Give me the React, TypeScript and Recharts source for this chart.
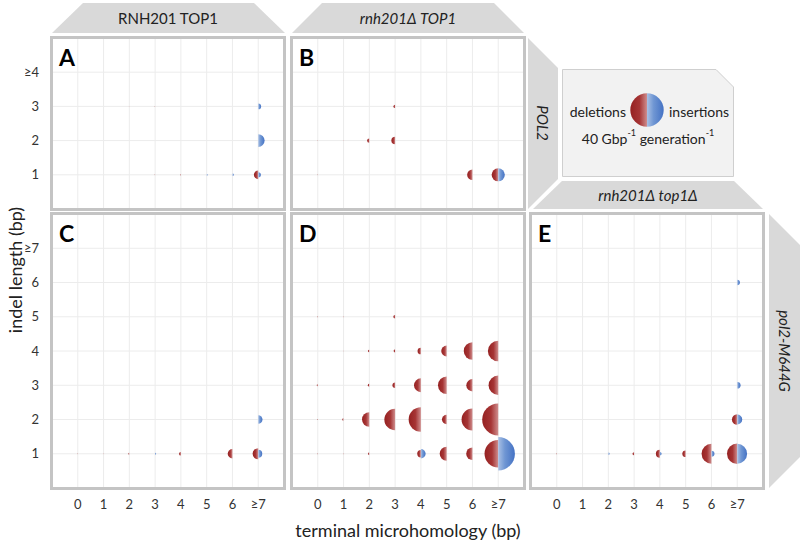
import React from 'react';
import { ScatterChart, Scatter, XAxis, YAxis, ZAxis, CartesianGrid } from 'recharts';

// tick labels
const microLabels = ['0', '1', '2', '3', '4', '5', '6', '≥7'];
const topLengthLabels = ['1', '2', '3', '≥4'];
const bottomLengthLabels = ['1', '2', '3', '4', '5', '6', '≥7'];

// rates (Gbp-1 generation-1); rows = indel length 1.., columns = microhomology 0..≥7
const aDeletions = [
  [0, 0, 0, 0.03, 0.06, 0, 0, 2.7],
  [0, 0, 0, 0, 0, 0, 0, 0],
  [0, 0, 0.03, 0.03, 0, 0, 0, 0],
  [0, 0, 0, 0, 0, 0, 0, 0],
];
const aInsertions = [
  [0, 0, 0, 0, 0, 0.12, 0.25, 1.0],
  [0, 0, 0, 0, 0, 0, 0, 5.8],
  [0, 0, 0, 0, 0, 0, 0, 1.2],
  [0, 0, 0, 0, 0, 0, 0, 0],
];
const bDeletions = [
  [0.03, 0, 0, 0, 0, 0, 4.0, 6.2],
  [0.03, 0.03, 0.7, 2.0, 0, 0, 0, 0],
  [0, 0, 0, 0.4, 0, 0, 0, 0],
  [0, 0, 0, 0, 0, 0, 0, 0],
];
const bInsertions = [
  [0, 0, 0, 0, 0, 0, 0, 6.2],
  [0, 0, 0, 0, 0, 0, 0, 0],
  [0, 0, 0, 0, 0, 0, 0, 0],
  [0, 0, 0, 0, 0, 0, 0, 0],
];
const cDeletions = [
  [0.03, 0.03, 0.12, 0, 0.5, 0, 3.2, 4.5],
  [0, 0, 0, 0, 0, 0, 0, 0],
  [0, 0, 0, 0, 0, 0, 0, 0],
  [0, 0, 0, 0, 0, 0, 0, 0],
  [0, 0, 0, 0, 0, 0, 0, 0],
  [0, 0, 0, 0, 0, 0, 0, 0],
  [0, 0, 0, 0, 0, 0, 0, 0],
];
const cInsertions = [
  [0, 0, 0, 0.15, 0, 0, 0, 2.3],
  [0, 0, 0, 0, 0, 0, 0, 2.6],
  [0, 0, 0, 0, 0, 0, 0, 0],
  [0, 0, 0, 0, 0, 0, 0, 0],
  [0, 0, 0, 0, 0, 0, 0, 0],
  [0, 0, 0, 0, 0, 0, 0, 0],
  [0, 0, 0, 0, 0, 0, 0, 0],
];
const dDeletions = [
  [0.04, 0.04, 0.25, 0, 1.9, 7.0, 5.6, 27],
  [0.05, 0.2, 7.7, 16.6, 21.5, 3.2, 17, 37],
  [0.15, 0, 0.3, 1.0, 6.8, 10.8, 5.4, 13.4],
  [0, 0.03, 0.25, 0.3, 1.6, 4.2, 10.8, 15.3],
  [0.05, 0.05, 0, 0.45, 0, 0, 0, 0],
  [0, 0, 0, 0, 0, 0, 0, 0],
  [0, 0, 0, 0, 0, 0, 0, 0],
];
const dInsertions = [
  [0, 0, 0, 0, 3.2, 0, 0, 40],
  [0, 0, 0, 0, 0, 0, 0, 0],
  [0, 0, 0, 0, 0, 0, 0, 0],
  [0, 0, 0, 0, 0, 0, 0, 0],
  [0, 0, 0, 0, 0, 0, 0, 0],
  [0, 0, 0, 0, 0, 0, 0, 0],
  [0, 0, 0, 0, 0, 0, 0, 0],
];
const eDeletions = [
  [0.05, 0, 0, 0.35, 2.3, 1.6, 14, 15],
  [0, 0, 0, 0, 0, 0, 0, 4.0],
  [0, 0, 0, 0, 0, 0, 0, 0],
  [0, 0, 0, 0, 0, 0, 0, 0],
  [0, 0, 0, 0, 0, 0, 0, 0],
  [0, 0, 0, 0, 0, 0, 0, 0],
  [0, 0, 0, 0, 0, 0, 0, 0],
];
const eInsertions = [
  [0, 0, 0.2, 0, 0.4, 0, 1.3, 14],
  [0, 0, 0, 0, 0, 0, 0, 3.6],
  [0, 0, 0, 0, 0, 0, 0, 1.6],
  [0, 0, 0, 0, 0, 0, 0, 0],
  [0, 0, 0, 0, 0, 0, 0, 0],
  [0, 0, 0, 0, 0, 0, 0, 1.0],
  [0, 0, 0, 0, 0, 0, 0, 0],
];
const legendRate = 40;

const toPoints = (rows: number[][]) =>
  rows
    .flatMap((row, i) => row.map((v, j) => ({ x: j, y: i + 1, v })))
    .filter((p) => p.v > 0);

// bubble area is proportional to the rate: 40 -> radius ~16.7px
const Z_DOMAIN: [number, number] = [0, 48];
const Z_RANGE: [number, number] = [0, Math.PI * 16.7 * 16.7 * (48 / 40)];

const halfShape = (side: 'left' | 'right', fill: string) => (props: any) => {
  const { cx, cy, width } = props;
  const r = (width || 0) / 2;
  if (!r || cx == null) return <g />;
  const sweep = side === 'left' ? 0 : 1;
  const d = `M${cx},${cy - r} A${r},${r} 0 0 ${sweep} ${cx},${cy + r} Z`;
  return <path d={d} fill={fill} />;
};

const Gradients = ({ id }: { id: string }) => (
  <defs>
    <linearGradient id={`del-${id}`} x1="0" y1="0" x2="1" y2="0">
      <stop offset="0%" stopColor="#952121" />
      <stop offset="55%" stopColor="#a63535" />
      <stop offset="100%" stopColor="#cf8d8d" />
    </linearGradient>
    <linearGradient id={`ins-${id}`} x1="0" y1="0" x2="1" y2="0">
      <stop offset="0%" stopColor="#a9c0e4" />
      <stop offset="40%" stopColor="#6f96d3" />
      <stop offset="100%" stopColor="#4472c4" />
    </linearGradient>
  </defs>
);

type PanelProps = {
  id: string;
  left: number;
  top: number;
  plotWidth: number;
  plotHeight: number;
  yMax: number;
  yLabels: string[];
  del: number[][];
  ins: number[][];
  showX: boolean;
  showY: boolean;
};

const tickStyle = { fontSize: 13, fill: '#333', fontFamily: 'Lato' };

function Panel(p: PanelProps) {
  const yAxisW = p.showY ? 52 : 0;
  const xAxisH = p.showX ? 30 : 0;
  return (
    <div style={{ position: 'absolute', left: p.left - yAxisW, top: p.top }}>
      <ScatterChart
        width={p.plotWidth + yAxisW}
        height={p.plotHeight + xAxisH}
        margin={{ top: 0, right: 0, bottom: 0, left: 0 }}
      >
        <Gradients id={p.id} />
        <CartesianGrid stroke="#ececec" strokeWidth={1} />
        <XAxis
          type="number"
          dataKey="x"
          domain={[-1, 8]}
          ticks={[0, 1, 2, 3, 4, 5, 6, 7]}
          interval={0}
          tickFormatter={(v: number) => microLabels[v]}
          hide={!p.showX}
          height={xAxisH}
          axisLine={false}
          tickLine={false}
          tickSize={0}
          tickMargin={12}
          tick={tickStyle}
        />
        <YAxis
          type="number"
          dataKey="y"
          domain={[0, p.yMax]}
          ticks={p.yLabels.map((_, i) => i + 1)}
          interval={0}
          tickFormatter={(v: number) => p.yLabels[v - 1]}
          hide={!p.showY}
          width={yAxisW}
          axisLine={false}
          tickLine={false}
          tickSize={0}
          tickMargin={13}
          tick={tickStyle}
        />
        <ZAxis type="number" dataKey="v" domain={Z_DOMAIN} range={Z_RANGE} />
        <Scatter
          data={toPoints(p.del)}
          shape={halfShape('left', `url(#del-${p.id})`)}
          isAnimationActive={false}
        />
        <Scatter
          data={toPoints(p.ins)}
          shape={halfShape('right', `url(#ins-${p.id})`)}
          isAnimationActive={false}
        />
      </ScatterChart>
    </div>
  );
}

function Frame({ left, top, w, h, letter }: { left: number; top: number; w: number; h: number; letter: string }) {
  return (
    <>
      <div
        style={{
          position: 'absolute',
          left: left - 2,
          top: top - 2,
          width: w + 4,
          height: h + 4,
          boxSizing: 'border-box',
          border: '3px solid #c4c4c4',
          pointerEvents: 'none',
        }}
      />
      <div
        style={{
          position: 'absolute',
          left: left + 7,
          top: top + 5,
          fontSize: 23,
          fontWeight: 700,
          color: '#000',
          lineHeight: '28px',
        }}
      >
        {letter}
      </div>
    </>
  );
}

const TAB = '#d9d9d9';

export default function App() {
  return (
    <div
      style={{
        position: 'absolute',
        left: 0,
        top: 0,
        width: 800,
        height: 541,
        background: '#fff',
        fontFamily: 'Lato, sans-serif',
        overflow: 'hidden',
      }}
    >
      <svg width={800} height={541} style={{ position: 'absolute', left: 0, top: 0 }}>
        {/* column tabs */}
        <polygon points="52,33 83,3 254,3 285,33" fill={TAB} />
        <text x={168} y={18} textAnchor="middle" dominantBaseline="central" fontSize={15} fill="#222">
          RNH201 TOP1
        </text>
        <polygon points="292,33 322,3 494,3 524,33" fill={TAB} />
        <text x={408} y={18} textAnchor="middle" dominantBaseline="central" fontSize={15} fill="#222" fontStyle="italic">
          rnh201Δ TOP1
        </text>
        {/* row tab POL2 */}
        <polygon points="528,38 558,68 558,179 528,209" fill={TAB} />
        <text
          x={543}
          y={123}
          textAnchor="middle"
          dominantBaseline="central"
          fontSize={15}
          fill="#222"
          fontStyle="italic"
          transform="rotate(90 543 123)"
        >
          POL2
        </text>
        {/* tab above E */}
        <polygon points="562,181 734,181 763,209 533,209" fill={TAB} />
        <text x={648} y={195} textAnchor="middle" dominantBaseline="central" fontSize={15} fill="#222" fontStyle="italic">
          rnh201Δ top1Δ
        </text>
        {/* row tab pol2-M644G */}
        <polygon points="769,214 800,245 800,457 769,488" fill={TAB} />
        <text
          x={785}
          y={351}
          textAnchor="middle"
          dominantBaseline="central"
          fontSize={15}
          fill="#222"
          fontStyle="italic"
          transform="rotate(90 785 351)"
        >
          pol2-M644G
        </text>
        {/* legend box */}
        <polygon points="562.5,69.5 716,69.5 733.5,87 733.5,176.5 562.5,176.5" fill="#f2f2f2" stroke="#cfcfcf" />
        <text x={626} y={111} textAnchor="end" dominantBaseline="central" fontSize={14} fill="#222">
          deletions
        </text>
        <text x={669} y={111} textAnchor="start" dominantBaseline="central" fontSize={14} fill="#222">
          insertions
        </text>
        <text x={648} y={138} textAnchor="middle" dominantBaseline="central" fontSize={14} fill="#222">
          40 Gbp<tspan fontSize={9} dy={-6}>-1</tspan>
          <tspan dy={6}> generation</tspan>
          <tspan fontSize={9} dy={-6}>-1</tspan>
        </text>
        {/* axis titles */}
        <text
          x={15}
          y={270}
          textAnchor="middle"
          dominantBaseline="central"
          fontSize={18}
          fill="#222"
          transform="rotate(-90 15 270)"
        >
          indel length (bp)
        </text>
        <text x={408} y={530} textAnchor="middle" dominantBaseline="central" fontSize={18} fill="#222">
          terminal microhomology (bp)
        </text>
      </svg>

      <Panel id="a" left={52} top={38} plotWidth={232} plotHeight={171} yMax={5} yLabels={topLengthLabels} del={aDeletions} ins={aInsertions} showX={false} showY />
      <Panel id="b" left={292} top={38} plotWidth={232} plotHeight={171} yMax={5} yLabels={topLengthLabels} del={bDeletions} ins={bInsertions} showX={false} showY={false} />
      <Panel id="c" left={52} top={214} plotWidth={232} plotHeight={274} yMax={8} yLabels={bottomLengthLabels} del={cDeletions} ins={cInsertions} showX showY />
      <Panel id="d" left={292} top={214} plotWidth={232} plotHeight={274} yMax={8} yLabels={bottomLengthLabels} del={dDeletions} ins={dInsertions} showX showY={false} />
      <Panel id="e" left={531} top={214} plotWidth={232} plotHeight={274} yMax={8} yLabels={bottomLengthLabels} del={eDeletions} ins={eInsertions} showX showY={false} />

      {/* legend bubble, same size scale as the panels */}
      <div style={{ position: 'absolute', left: 627, top: 90 }}>
        <ScatterChart width={40} height={40} margin={{ top: 0, right: 0, bottom: 0, left: 0 }}>
          <Gradients id="legend" />
          <XAxis type="number" dataKey="x" domain={[0, 1]} hide />
          <YAxis type="number" dataKey="y" domain={[0, 1]} hide />
          <ZAxis type="number" dataKey="v" domain={Z_DOMAIN} range={Z_RANGE} />
          <Scatter data={[{ x: 0.5, y: 0.5, v: legendRate }]} shape={halfShape('left', 'url(#del-legend)')} isAnimationActive={false} />
          <Scatter data={[{ x: 0.5, y: 0.5, v: legendRate }]} shape={halfShape('right', 'url(#ins-legend)')} isAnimationActive={false} />
        </ScatterChart>
      </div>

      <Frame left={52} top={38} w={232} h={171} letter="A" />
      <Frame left={292} top={38} w={232} h={171} letter="B" />
      <Frame left={52} top={214} w={232} h={274} letter="C" />
      <Frame left={292} top={214} w={232} h={274} letter="D" />
      <Frame left={531} top={214} w={232} h={274} letter="E" />
    </div>
  );
}
